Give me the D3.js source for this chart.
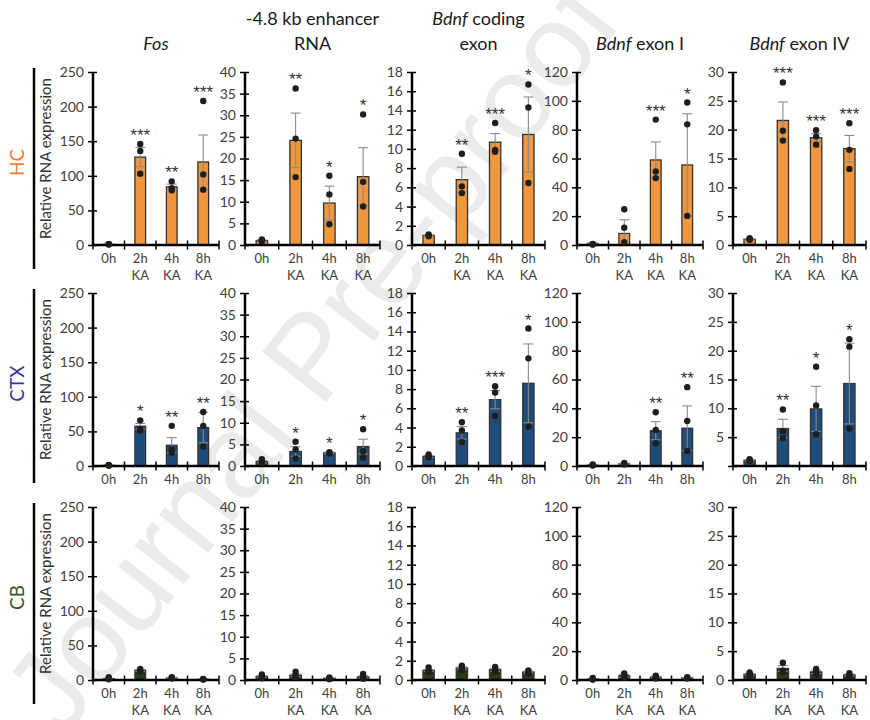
<!DOCTYPE html>
<html>
<head>
<meta charset="utf-8">
<script src="https://cdn.jsdelivr.net/npm/d3@7"></script>
<style>
  body { margin: 0; background: #fff; }
  svg { display: block; font-family: Lato, "Open Sans", sans-serif; }
</style>
</head>
<body>
<div id="chart"></div>
<script>

// ---- data ----
const regions = ["HC", "CTX", "CB"]
const timepoints = ["0h", "2h", "4h", "8h"]
const yMax = [250, 40, 18, 120, 30]
const yStep = [50, 5, 2, 20, 5]

// column titles, [text, italic] segments per line
const titles = [
  [[["Fos", true]]],
  [[["-4.8 kb enhancer", false]], [["RNA", false]]],
  [[["Bdnf", true], [" coding", false]], [["exon", false]]],
  [[["Bdnf", true], [" exon I", false]]],
  [[["Bdnf", true], [" exon IV", false]]]
]

const hcMean = [
  [1, 127, 84, 120],
  [1, 24.2, 9.7, 15.8],
  [1.0, 6.8, 10.7, 11.5],
  [1, 8, 59, 55.5],
  [1, 21.6, 18.6, 16.7]
]
const hcSem = [
  [0.3, 14, 4, 39],
  [0.2, 6.3, 3.9, 6.7],
  [0.05, 1.3, 0.9, 3.9],
  [0.4, 9.5, 12.5, 35.5],
  [0.1, 3.2, 0.7, 2.3]
]
const hcDots = [
  [[1, 1, 1], [146, 136, 103], [92, 82, 79], [208, 102, 80]],
  [[1.3, 1, 0.8], [36.2, 24.6, 15.7], [16, 11.7, 4.8], [30.2, 14.6, 8.9]],
  [[1.1, 1.0, 0.9], [9.5, 6.1, 5.4], [12.7, 9.9, 9.7], [16.7, 14.3, 6.45]],
  [[0.8, 0.5, 0.3], [24.8, 12, 2], [87, 51, 46.4], [98.8, 83.7, 20.2]],
  [[1.2, 1.0, 0.9], [28.2, 19.8, 18.1], [19.9, 18.8, 17.4], [21.1, 16.5, 13.2]]
]
const hcStars = [
  ["", "***", "**", "***"],
  ["", "**", "*", "*"],
  ["", "**", "***", "*"],
  ["", "", "***", "*"],
  ["", "***", "***", "***"]
]

const ctxMean = [
  [1, 57.5, 30, 55.5],
  [1, 3.35, 3.05, 4.5],
  [1.0, 3.45, 6.9, 8.6],
  [0.5, 1.5, 24.5, 26.2],
  [1, 6.5, 9.9, 14.3]
]
const ctxSem = [
  [0.3, 4, 11, 22],
  [0.25, 1.1, 0.15, 1.7],
  [0.1, 0.65, 0.95, 4.1],
  [0.2, 0.4, 6.3, 15.5],
  [0.1, 1.6, 3.9, 7]
]
const ctxDots = [
  [[1.5, 1, 0.5], [66, 53, 51], [58, 24, 19], [78, 58, 28]],
  [[1.6, 1, 0.7], [5.6, 3.8, 1.7], [3.2, 3.0, 2.9], [8.5, 3.4, 1.9]],
  [[1.2, 1.0, 0.9], [4.55, 3.7, 2.5], [8.3, 7.65, 5.2], [14.3, 11.2, 4.1]],
  [[1, 0.6, 0.3], [2.2, 1.5, 1], [37.3, 25, 15.8], [54.7, 31.2, 10.4]],
  [[1.2, 1.0, 0.9], [9.8, 6, 4.8], [17.2, 10.5, 5.5], [22, 20.7, 6.5]]
]
const ctxStars = [
  ["", "*", "**", "**"],
  ["", "*", "*", "*"],
  ["", "**", "***", "*"],
  ["", "", "**", "**"],
  ["", "**", "*", "*"]
]

const cbMean = [
  [2, 14, 3, 1],
  [0.8, 1.1, 0.4, 0.7],
  [1.0, 1.25, 1.07, 0.83],
  [0.7, 3, 2, 1.5],
  [1, 2.0, 1.4, 0.9]
]
const cbSem = [
  [0.8, 1.5, 0.8, 0.3],
  [0.2, 0.35, 0.1, 0.3],
  [0.1, 0.12, 0.15, 0.1],
  [0.3, 1, 0.6, 0.3],
  [0.15, 0.5, 0.3, 0.15]
]
const cbDots = [
  [[4, 2, 1], [16, 13, 12], [4, 3, 2], [1.5, 1, 0.8]],
  [[1.3, 0.8, 0.4], [1.9, 1.0, 0.6], [0.6, 0.4, 0.2], [1.4, 0.7, 0.3]],
  [[1.3, 1.0, 0.8], [1.5, 1.15, 1.05], [1.35, 1.0, 0.85], [1.0, 0.8, 0.65]],
  [[1.5, 0.5, 0.3], [4.5, 2.5, 1.5], [3, 2, 1], [2, 1.5, 1]],
  [[1.3, 1.0, 0.8], [3.0, 1.6, 1.4], [1.9, 1.4, 1.0], [1.2, 0.8, 0.7]]
]
const cbStars = [
  ["", "", "", ""], ["", "", "", ""], ["", "", "", ""], ["", "", "", ""], ["", "", "", ""]
]

const regionData = [
  {mean: hcMean, sem: hcSem, dots: hcDots, stars: hcStars},
  {mean: ctxMean, sem: ctxSem, dots: ctxDots, stars: ctxStars},
  {mean: cbMean, sem: cbSem, dots: cbDots, stars: cbStars}
]

// ---- layout ----
const colX = [93, 245, 412, 577, 733]
const colW = [126, 135, 133, 126, 133]
const rowTop = [72, 293, 507]
const rowBottom = [245, 466, 680]
const barFill = ["#F0973D", "#1E4D7B", "#293B1B"]
const labelColor = ["#ED7D31", "#3A3A96", "#3B5323"]
const showKA = [true, false, true]

const svg = d3.select("#chart").append("svg")
  .attr("width", 870)
  .attr("height", 720)

// watermark
svg.append("text")
  .attr("transform", "translate(318,362) rotate(-52)")
  .attr("text-anchor", "middle")
  .attr("dominant-baseline", "middle")
  .style("font-family", "'Liberation Sans', Arial, sans-serif")
  .style("font-size", "118px")
  .attr("fill", "#ebebeb")
  .text("Journal Pre-proof")

// column titles
titles.forEach((lines, c) => {
  const cx = colX[c] + colW[c] / 2
  const t = svg.append("text")
    .attr("text-anchor", "middle")
    .style("font-size", "18px")
    .attr("fill", "#1a1a1a")
  lines.forEach((segs, li) => {
    const yy = lines.length == 2 ? 25 + li * 25 : 50
    segs.forEach((s, si) => {
      const sp = t.append("tspan")
        .style("font-style", s[1] ? "italic" : "normal")
        .text(s[0])
      if (si == 0) sp.attr("x", cx).attr("y", yy)
    })
  })
})

regions.forEach((reg, r) => {
  const top = rowTop[r], bottom = rowBottom[r]
  const d = regionData[r]

  // region bracket
  svg.append("line")
    .attr("x1", 34).attr("x2", 34)
    .attr("y1", top - 4).attr("y2", bottom + (showKA[r] ? 24 : 17))
    .attr("stroke", "#000").attr("stroke-width", 2.5)

  svg.append("text")
    .attr("transform", `translate(19,${(top + bottom) / 2 + 4}) rotate(-90)`)
    .attr("text-anchor", "middle")
    .attr("dominant-baseline", "middle")
    .style("font-size", "19px")
    .attr("fill", labelColor[r])
    .text(reg)

  svg.append("text")
    .attr("transform", `translate(47,${(top + bottom) / 2}) rotate(-90)`)
    .attr("text-anchor", "middle")
    .attr("dominant-baseline", "middle")
    .style("font-size", "15px")
    .attr("fill", "#333")
    .text("Relative RNA expression")

  yMax.forEach((ym, c) => {
    const x0 = colX[c], w = colW[c]
    const x = d3.scaleBand().domain(timepoints).range([x0, x0 + w])
    const y = d3.scaleLinear().domain([0, ym]).range([bottom, top])
    const bw = x.bandwidth() * 0.34
    const g = svg.append("g")

    // y axis
    const yAxis = d3.axisLeft(y)
      .tickValues(d3.range(0, ym + yStep[c] / 2, yStep[c]))
      .tickSize(5)
      .tickPadding(4)
    const ya = g.append("g")
      .attr("transform", `translate(${x0},0)`)
      .call(yAxis)
    ya.select(".domain").remove()
    ya.selectAll(".tick line").attr("x1", 4).attr("stroke", "#000").attr("stroke-width", 1.5)
    ya.selectAll(".tick text")
      .style("font-size", "14px")
      .style("font-family", "Lato, sans-serif")
      .attr("fill", "#404040")
    if (r == 1 && c == 4) ya.selectAll(".tick text").filter(v => v == 0).remove()
    g.append("line")
      .attr("x1", x0).attr("x2", x0)
      .attr("y1", top).attr("y2", bottom + 1)
      .attr("stroke", "#000").attr("stroke-width", 2.5)

    const rows = timepoints.map((tp, i) => ({
      tp: tp,
      mean: d.mean[c][i],
      sem: d.sem[c][i],
      dots: d.dots[c][i],
      star: d.stars[c][i]
    }))
    const cxOf = v => x(v.tp) + x.bandwidth() / 2

    // bars
    g.selectAll("rect.bar").data(rows).join("rect")
      .attr("class", "bar")
      .attr("x", v => cxOf(v) - bw / 2)
      .attr("width", bw)
      .attr("y", v => y(v.mean))
      .attr("height", v => bottom - y(v.mean))
      .attr("fill", barFill[r])
      .attr("stroke", "#333")
      .attr("stroke-width", 1.3)

    // error bars
    const eb = g.selectAll("g.err").data(rows).join("g").attr("class", "err")
      .attr("stroke", "#8a8a8a").attr("stroke-width", 1.1)
    eb.append("line")
      .attr("x1", cxOf).attr("x2", cxOf)
      .attr("y1", v => y(Math.max(0, v.mean - v.sem)))
      .attr("y2", v => y(v.mean + v.sem))
    eb.append("line")
      .attr("x1", v => cxOf(v) - 5).attr("x2", v => cxOf(v) + 5)
      .attr("y1", v => y(v.mean + v.sem)).attr("y2", v => y(v.mean + v.sem))
    eb.filter(v => v.mean - v.sem > 0).append("line")
      .attr("x1", v => cxOf(v) - 5).attr("x2", v => cxOf(v) + 5)
      .attr("y1", v => y(v.mean - v.sem)).attr("y2", v => y(v.mean - v.sem))

    // x axis
    g.append("line")
      .attr("x1", x0).attr("x2", x0 + w)
      .attr("y1", bottom).attr("y2", bottom)
      .attr("stroke", "#000").attr("stroke-width", 2.5)
    const bounds = timepoints.map(tp => x(tp)).concat([x0 + w])
    g.selectAll("line.xt").data(bounds).join("line")
      .attr("class", "xt")
      .attr("x1", v => v).attr("x2", v => v)
      .attr("y1", bottom - 4.5).attr("y2", bottom + 4.5)
      .attr("stroke", "#000").attr("stroke-width", 1.5)

    // dots
    rows.forEach(v => {
      g.selectAll(null).data(v.dots).join("circle")
        .attr("cx", cxOf(v))
        .attr("cy", dv => y(dv))
        .attr("r", 3.2)
        .attr("fill", "#1e1e1e")
    })

    // significance stars
    g.selectAll("text.star").data(rows.filter(v => v.star)).join("text")
      .attr("class", "star")
      .attr("x", cxOf)
      .attr("y", v => y(Math.max(d3.max(v.dots), v.mean + v.sem)) - 3)
      .attr("text-anchor", "middle")
      .style("font-family", "'Liberation Sans', Arial, sans-serif")
      .style("font-size", "17px")
      .attr("fill", "#333")
      .text(v => v.star)

    // x labels
    g.selectAll("text.xl").data(timepoints).join("text")
      .attr("class", "xl")
      .attr("x", tp => x(tp) + x.bandwidth() / 2)
      .attr("y", bottom + 18)
      .attr("text-anchor", "middle")
      .style("font-size", "13px")
      .attr("fill", "#404040")
      .text(tp => tp)
    if (showKA[r]) {
      g.selectAll("text.ka").data(timepoints.slice(1)).join("text")
        .attr("class", "ka")
        .attr("x", tp => x(tp) + x.bandwidth() / 2)
        .attr("y", bottom + 35)
        .attr("text-anchor", "middle")
        .style("font-size", "13px")
        .attr("fill", "#404040")
        .text("KA")
    }
  })
})
</script>
</body>
</html>
